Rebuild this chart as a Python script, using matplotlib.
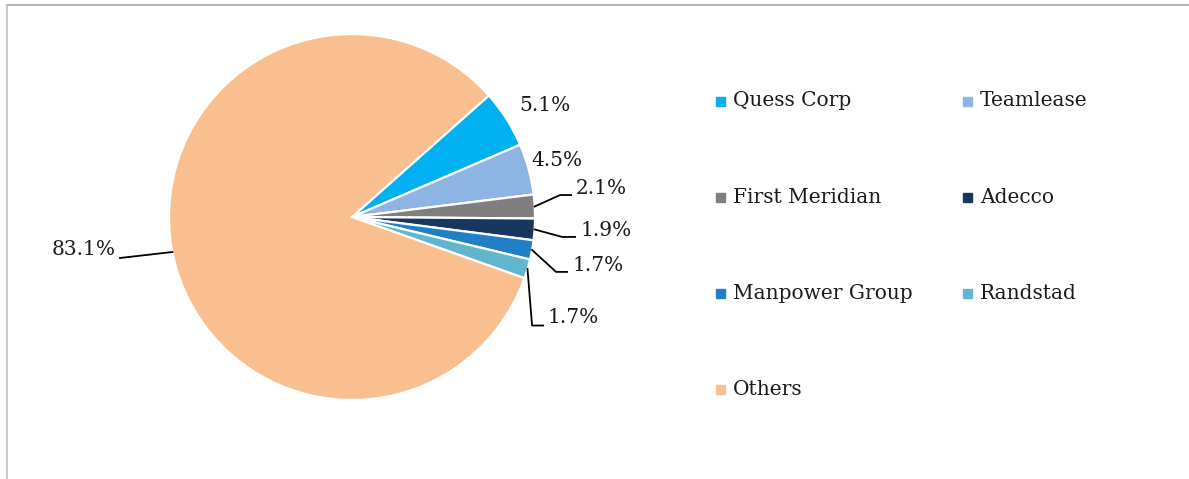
import numpy as np
import matplotlib
matplotlib.use("Agg")
import matplotlib.pyplot as plt
from matplotlib.patches import Rectangle
from matplotlib.lines import Line2D

plt.rcParams["font.family"] = ["DejaVu Serif"]

# data
companies = ["Quess Corp", "Teamlease", "First Meridian", "Adecco",
             "Manpower Group", "Randstad", "Others"]
shares = [5.1, 4.5, 2.1, 1.9, 1.7, 1.7, 83.1]
share_labels = ["5.1%", "4.5%", "2.1%", "1.9%", "1.7%", "1.7%", "83.1%"]
colors = ["#00B0F0", "#8DB4E2", "#7F7F7F", "#17375E",
          "#1F80C6", "#62B5CF", "#FABF8F"]

W, H = 1189, 479
fig = plt.figure(figsize=(W / 100, H / 100), dpi=100)

# pie axes: centre (352, 217) px, radius 183 px
cx, cy, r = 352, 217, 183
ax = fig.add_axes([(cx - r) / W, (H - cy - r) / H, 2 * r / W, 2 * r / H])
wedges, _ = ax.pie(shares, colors=colors, startangle=41.6, counterclock=False,
                   radius=1.0, wedgeprops=dict(edgecolor="white", linewidth=1.6))
ax.set_xlim(-1, 1)
ax.set_ylim(-1, 1)
ax.set_aspect("equal")
ax.axis("off")

# label layout (pie radius units): text pos, alignment, leader elbow (None = no leader)
label_pos = [(1.055, 0.612, "center"), (1.12, 0.311, "center"),
             (1.224, 0.158, "left"), (1.246, -0.075, "left"),
             (1.203, -0.265, "left"), (1.071, -0.55, "left"),
             (-1.292, -0.18, "right")]
elbows = [None, None, (1.137, 0.12, 1.197), (1.148, -0.109, 1.219),
          (1.115, -0.3, 1.175), (0.984, -0.593, 1.044), (-1.268, -0.224, -1.268)]

for w, lab, (tx, ty, ha), el in zip(wedges, share_labels, label_pos, elbows):
    ax.text(tx, ty, lab, ha=ha, va="center", fontsize=14.5, color="#1a1a1a",
            clip_on=False)
    if el is not None:
        mid = np.deg2rad((w.theta1 + w.theta2) / 2)
        x0, y0 = np.cos(mid), np.sin(mid)
        ex, ey, hx = el
        ax.add_line(Line2D([x0, ex, hx], [y0, ey, ey], color="black",
                           linewidth=1.3, clip_on=False))

# legend, two columns in row order
for i, (name, c) in enumerate(zip(companies, colors)):
    row, col = i // 2, i % 2
    x = 716 + col * 247
    y = 101 + row * 96.3
    s = 9
    fig.add_artist(Rectangle(((x) / W, (H - y - s / 2) / H), s / W, s / H,
                             transform=fig.transFigure, color=c))
    fig.text((x + 17) / W, (H - y) / H, name, ha="left", va="center",
             fontsize=14.5, color="#1a1a1a")

# chart border (top and left edges visible)
fig.add_artist(Line2D([7 / W, 1], [(H - 5) / H, (H - 5) / H],
                      transform=fig.transFigure, color="#A6A6A6", linewidth=1.2))
fig.add_artist(Line2D([7 / W, 7 / W], [0, (H - 5) / H],
                      transform=fig.transFigure, color="#BFBFBF", linewidth=1.2))

fig.savefig("out.png", dpi=100)
